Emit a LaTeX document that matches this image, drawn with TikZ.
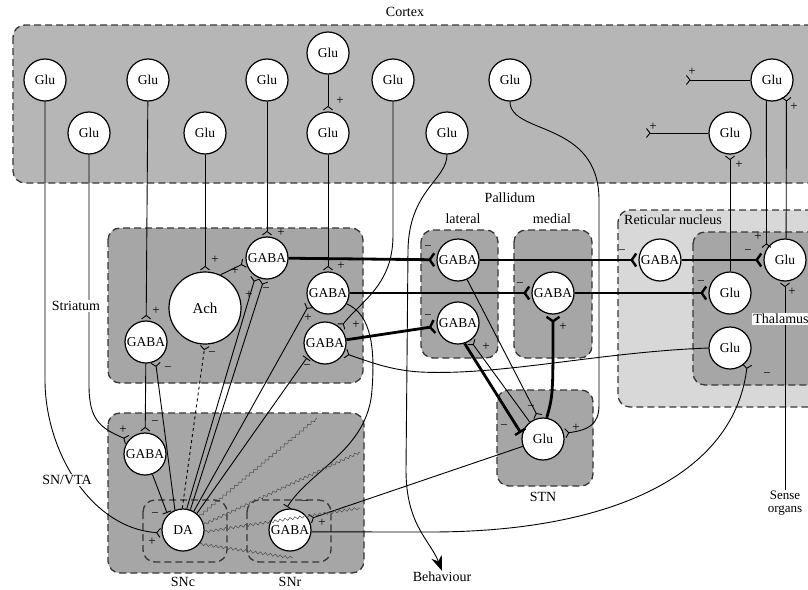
\documentclass[tikz,border=0pt]{standalone}
\usepackage{fontspec}
\setmainfont{Liberation Serif}
\usetikzlibrary{arrows.meta,positioning,decorations.pathmorphing}
\definecolor{ctxgray}{RGB}{182,182,182}
\definecolor{boxgray}{RGB}{166,166,166}
\definecolor{retgray}{RGB}{216,216,216}
\definecolor{dashgray}{RGB}{55,55,55}
\begin{document}
\begin{tikzpicture}[x=1pt,y=-1pt,
    neuron/.style={draw,circle,fill=white,line width=1.2pt,minimum size=42pt,inner sep=0pt,font=\fontsize{13.5}{13.5}\selectfont},
    area/.style={draw=dashgray,line width=1.3pt,dash pattern=on 7pt off 4pt,rounded corners=12pt},
    lbl/.style={font=\fontsize{14}{15}\selectfont,inner sep=1pt},
    sg/.style={font=\fontsize{13}{13}\selectfont,inner sep=0pt},
    axon/.style={line width=0.9pt},
    exc/.style={axon,-{Straight Barb[reversed,length=3.5pt,width=9pt]},shorten >=1pt},
    inh/.style={axon,-{Bar[width=9pt]},shorten >=2pt},
    thk/.style={line width=2.8pt,-{Straight Barb[reversed,length=4.5pt,width=13pt,line width=2.4pt]},shorten >=1pt},
    thkinh/.style={line width=2.8pt,-{Bar[width=12pt,line width=2.4pt]},shorten >=2pt},
    wave/.style={gray!60!black,line width=0.5pt,decorate,decoration={snake,amplitude=1.3pt,segment length=5pt}}]
\useasboundingbox (0,0) rectangle (808,589);
\clip (0,0) rectangle (808,589);
\draw[area,fill=ctxgray] (13,25) rectangle (840,183);
\draw[area,fill=boxgray] (108,228) rectangle (363,383);
\draw[area,fill=boxgray] (421,230) rectangle (498,358);
\draw[area,fill=boxgray] (514,230) rectangle (592,358);
\draw[area,fill=retgray] (618,210) rectangle (840,407);
\draw[area,fill=boxgray] (693,232) rectangle (840,385);
\draw[area,fill=boxgray] (497,390) rectangle (593,486);
\draw[area,fill=boxgray] (108,413) rectangle (364,573);
\draw[area] (143,500) rectangle (227,562);
\draw[area] (247,500) rectangle (331,562);

\node[lbl] (cortex) at (405,12) {Cortex};
\node[lbl] (pallidum) at (510,198) {Pallidum};
\node[lbl] (lateral) at (463,219) {lateral};
\node[lbl] (medial) at (552,219) {medial};
\node[lbl,anchor=west] (retic) at (623,220) {Reticular nucleus};
\node[lbl] (stnlbl) at (543,497) {STN};
\node[lbl] (snclbl) at (183,582) {SNc};
\node[lbl] (snrlbl) at (290,582) {SNr};
\node[lbl] (beh) at (442,577) {Behaviour};
\node[lbl,align=center,font=\fontsize{13}{13}\selectfont] (sense) at (785,503) {Sense\\organs};

\node[neuron] (c1) at (45,80) {Glu};
\node[neuron] (c2) at (89,133) {Glu};
\node[neuron] (c3) at (148,80) {Glu};
\node[neuron] (c4) at (205,133) {Glu};
\node[neuron] (c5) at (267,80) {Glu};
\node[neuron] (c6) at (328,53) {Glu};
\node[neuron,below of=c6,node distance=80pt] (c7) {Glu};
\node[neuron] (c8) at (393,80) {Glu};
\node[neuron] (c9) at (447,133) {Glu};
\node[neuron] (c10) at (510,80) {Glu};
\node[neuron] (c11) at (772,80) {Glu};
\node[neuron] (c12) at (730,133) {Glu};
\coordinate (in11) at (685,80);
\coordinate (in12) at (645,133);

\node[neuron,minimum size=72pt,font=\fontsize{15}{15}\selectfont] (ach) at (205,308) {Ach};
\node[neuron] (s1) at (267,258) {GABA};
\node[neuron] (s2) at (328,293) {GABA};
\node[neuron] (s3) at (325,343) {GABA};
\node[neuron] (s4) at (146,342) {GABA};

\node[neuron] (l1) at (458,260) {GABA};
\node[neuron,below of=l1,node distance=63pt] (l2) {GABA};
\node[neuron] (m) at (553,293) {GABA};
\node[neuron] (r) at (660,260) {GABA};
\node[neuron] (t1) at (785,260) {Glu};
\node[neuron] (t2) at (730,293) {Glu};
\node[neuron,below of=t2,node distance=55pt] (t3) {Glu};
\node[neuron] (stn) at (543,439) {Glu};

\node[neuron] (sng) at (145,454) {GABA};
\node[neuron] (da) at (183,530) {DA};
\node[neuron,right of=da,node distance=107pt] (snr) {GABA};
\coordinate (w1) at (317,418);
\coordinate (w2) at (360,452);
\coordinate (w3) at (360,508);
\coordinate (w4) at (293,558);

\draw[exc] (c6) -- (c7);
\draw[exc] (c11) -- (in11);
\draw[exc] (c12) -- (in12);
\draw[exc] (t1.87) -- (c11.312);
\draw[exc] (c11.255) -- (t1.149);
\draw[exc] (t2) -- (c12);
\draw[exc] (sense) -- (t1);
\draw[exc] (c3) -- (s4);
\draw[exc] (c4) -- (ach);
\draw[exc] (c5) -- (s1);
\draw[exc] (c7) -- (s2);
\draw[exc] (c8.south) -- (393,235) .. controls (393,285) and (362,300) .. (s3.45);
\draw[exc] (c2.south) -- (89,385) .. controls (89,420) and (100,428) .. (sng.140);
\draw[exc] (c1.south) -- (45,380) .. controls (45,450) and (90,528) .. (da.188);
\draw[axon,-{Stealth[length=15pt,width=11pt]}] (c9.south) .. controls (447,180) and (409,190) .. (408,250) -- (406,470) .. controls (406,525) and (430,540) .. (beh.north);
\draw[exc] (c10.south) .. controls (510,135) and (599,120) .. (599,200) -- (599,405) .. controls (599,425) and (588,430) .. (stn.15);

\draw[exc] (ach.65) -- (s1.192);
\draw[exc] (da.80) -- (s1.238);
\draw[exc] (da.70) -- (s1.262);
\draw[exc] (da.60) -- (s2.211);
\draw[inh] (da.50) -- (s3.218);
\draw[exc] (da.112) -- (s4.296);
\draw[exc,dashed] (da.92) -- (ach.south);
\draw[exc] (s4) -- (sng);
\draw[inh] (sng.290) -- (da.135);
\draw[inh] (s2.-30) .. controls (372,315) and (375,350) .. (372,390) .. controls (368,450) and (310,470) .. (snr.100);
\draw[exc] (t3.west) .. controls (600,352) and (500,376) .. (420,372) .. controls (390,370) and (370,362) .. (s3.-28);

\draw[thk] (s1) -- (l1);
\draw[thk] (s2) -- (m);
\draw[thk] (s3) -- (l2);
\draw[thk] (l1) -- (r);
\draw[thk] (r) -- (t1);
\draw[thk] (m) -- (t2);
\draw[thk] (stn.80) .. controls (553,395) .. (m.south);
\draw[thkinh] (l2.288) -- (stn.168);
\draw[exc] (stn.128) -- (l2.305);
\draw[exc] (l1.295) -- (stn.102);
\draw[exc] (stn.200) -- (snr.30);
\draw[exc,shorten >=4pt] (snr.-5) -- (430,532) .. controls (620,532) and (735,470) .. (t3.-35);

\draw[wave] (da.40) -- (w1);
\draw[wave] (da.15) -- (w2);
\draw[wave] (da.-5) -- (w3);
\draw[wave] (da.-40) -- (w4);

\node[sg] (sgc7) at (340,101) {+};
\node[sg] (sgin11) at (692,72) {+};
\node[sg] (sgin12) at (653,127) {+};
\node[sg] (sgc11) at (794,107) {+};
\node[sg] (sgc12) at (739,165) {+};
\node[sg] (sgs1a) at (281,233) {+};
\node[sg] (sgach) at (215,260) {+};
\node[sg] (sgs1b) at (235,271) {+};
\node[sg] (sgs1c) at (249,295) {+};
\node[sg] (sgs1d) at (266,290) {−};
\node[sg] (sgs2a) at (341,266) {+};
\node[sg] (sgs2b) at (308,318) {+};
\node[sg] (sgs3a) at (356,325) {+};
\node[sg] (sgs3b) at (307,367) {−};
\node[sg] (sgs4a) at (156,311) {+};
\node[sg] (sgs4b) at (168,369) {−};
\node[sg] (sgachb) at (212,354) {−};
\node[sg] (sgl1) at (428,248) {−};
\node[sg] (sgl2) at (428,317) {−};
\node[sg] (sgm) at (520,285) {−};
\node[sg] (sgmb) at (563,327) {+};
\node[sg] (sgl2b) at (486,347) {+};
\node[sg] (sgr) at (622,252) {−};
\node[sg] (sgt1a) at (748,252) {−};
\node[sg] (sgt2) at (701,283) {−};
\node[sg] (sgt1b) at (758,237) {+};
\node[sg] (sgt1c) at (792,292) {+};
\node[sg] (sgt3) at (767,375) {−};
\node[sg] (sgstna) at (531,408) {−};
\node[sg] (sgstnb) at (504,427) {−};
\node[sg] (sgstnc) at (576,428) {+};
\node[sg] (sgsnga) at (155,423) {−};
\node[sg] (sgsngb) at (123,430) {+};
\node[sg] (sgdaa) at (155,515) {−};
\node[sg] (sgdab) at (152,542) {+};
\node[sg] (sgsnra) at (305,503) {−};
\node[sg] (sgsnrb) at (322,523) {+};

\node[lbl,fill=white] (striatum) at (76,306) {Striatum};
\node[lbl,fill=white] (snvta) at (67,480) {SN/VTA};
\node[lbl,fill=white,inner sep=1.5pt] (thal) at (781,319) {Thalamus};
\end{tikzpicture}
\end{document}
